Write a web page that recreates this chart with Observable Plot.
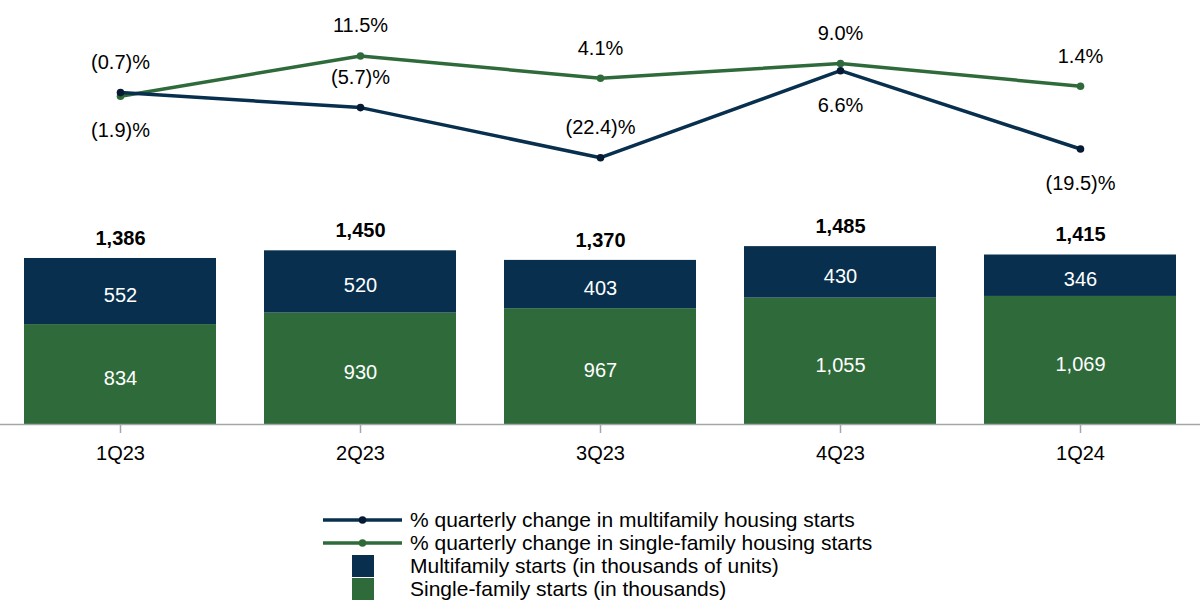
<!DOCTYPE html>
<html><head><meta charset="utf-8">
<script src="https://cdn.jsdelivr.net/npm/d3@7"></script>
<script src="https://cdn.jsdelivr.net/npm/@observablehq/plot@0.6"></script>
<style>
body{margin:0;background:#fff;font-family:"Liberation Sans",Arial,sans-serif;}
#chart{position:relative;width:1200px;height:614px;overflow:hidden;}
#chart svg.plt{position:absolute;left:0;top:0;}
#legend{position:absolute;left:323px;top:508px;font-size:21px;color:#000;}
.row{display:flex;align-items:center;height:23px;}
.sym{width:79px;height:23px;display:flex;align-items:center;justify-content:center;margin-right:8px;}
.sw{width:22px;height:22px;}
</style></head><body><div id="chart"><div id="legend"></div></div>
<script>
const quarters = ["1Q23","2Q23","3Q23","4Q23","1Q24"];
const multifamilyStarts = [552,520,403,430,346];
const singleFamilyStarts = [834,930,967,1055,1069];
const totalStarts = [1386,1450,1370,1485,1415];
const mfChange = [-0.7,-5.7,-22.4,6.6,-19.5];
const sfChange = [-1.9,11.5,4.1,9.0,1.4];

const NAVY = "#08304e", GREEN = "#2f6b3a", DOT_NAVY = "#061b33";
const SF = "Single-family starts (in thousands)";
const MF = "Multifamily starts (in thousands of units)";

const rows = [];
quarters.forEach((q,i)=>{
  rows.push({q, series:SF, value:singleFamilyStarts[i]});
  rows.push({q, series:MF, value:multifamilyStarts[i]});
});
const totals = quarters.map((q,i)=>({q, total: totalStarts[i]}));
const fmtN = d3.format(",");
const fmtP = v => v < 0 ? `(${(-v).toFixed(1)})%` : `${v.toFixed(1)}%`;

const chart = document.getElementById("chart");
const style = {fontFamily:"'Liberation Sans', Arial, sans-serif", fontSize:"20px", color:"black", background:"transparent"};

const bars = Plot.plot({
  width:1200, height:470, marginTop:200, marginBottom:46, marginLeft:0, marginRight:0,
  style,
  x:{domain:quarters, paddingInner:0.2, paddingOuter:0.1, label:null},
  y:{domain:[0,1870], axis:null},
  color:{domain:[SF,MF], range:[GREEN,NAVY]},
  marks:[
    Plot.barY(rows, Plot.stackY({x:"q", y:"value", fill:"series", z:"series", order:[SF,MF]})),
    Plot.text(rows, Plot.stackY({x:"q", y:"value", z:"series", order:[SF,MF], text:d=>fmtN(d.value), fill:"white", fontSize:20, dy:4})),
    Plot.text(totals, {x:"q", y:"total", text:d=>fmtN(d.total), dy:-20, fontSize:20, fontWeight:"bold", fill:"black"}),
    Plot.ruleY([0], {stroke:"#a6a6a6", strokeWidth:1.5}),
    Plot.axisX({tickSize:9, tickPadding:12, fontSize:20, stroke:"#a6a6a6", strokeWidth:1.5, fill:"black", label:null})
  ]
});
bars.classList.add("plt");
chart.appendChild(bars);

const mfData = quarters.map((q,i)=>({q, v:mfChange[i]}));
const sfData = quarters.map((q,i)=>({q, v:sfChange[i]}));
const mfBelow = new Set(["4Q23","1Q24"]);
const sfBelow = new Set(["1Q23"]);

const lines = Plot.plot({
  width:1200, height:220, margin:0,
  style,
  x:{type:"point", domain:quarters, padding:0.5, axis:null},
  y:{domain:[-43.33,30], axis:null},
  marks:[
    Plot.line(sfData, {x:"q", y:"v", stroke:GREEN, strokeWidth:3.5}),
    Plot.dot(sfData, {x:"q", y:"v", fill:GREEN, r:3.8}),
    Plot.line(mfData, {x:"q", y:"v", stroke:NAVY, strokeWidth:3.5}),
    Plot.dot(mfData, {x:"q", y:"v", fill:DOT_NAVY, r:3.8}),
    Plot.text(sfData.filter(d=>!sfBelow.has(d.q)), {x:"q", y:"v", text:d=>fmtP(d.v), dy:-30, fontSize:20, fill:"black"}),
    Plot.text(sfData.filter(d=>sfBelow.has(d.q)), {x:"q", y:"v", text:d=>fmtP(d.v), dy:34, fontSize:20, fill:"black"}),
    Plot.text(mfData.filter(d=>!mfBelow.has(d.q)), {x:"q", y:"v", text:d=>fmtP(d.v), dy:-30, fontSize:20, fill:"black"}),
    Plot.text(mfData.filter(d=>mfBelow.has(d.q)), {x:"q", y:"v", text:d=>fmtP(d.v), dy:35, fontSize:20, fill:"black"})
  ]
});
lines.classList.add("plt");
chart.appendChild(lines);

// legend
const legendItems = [
  {type:"line", color:NAVY, dot:DOT_NAVY, label:"% quarterly change in multifamily housing starts"},
  {type:"line", color:GREEN, dot:GREEN, label:"% quarterly change in single-family housing starts"},
  {type:"sq", color:NAVY, label:MF},
  {type:"sq", color:GREEN, label:SF}
];
const lg = document.getElementById("legend");
lg.innerHTML = legendItems.map(it => {
  const sym = it.type === "line"
    ? `<svg width="79" height="10"><line x1="0" x2="79" y1="5" y2="5" stroke="${it.color}" stroke-width="3.5"/><circle cx="39.5" cy="5" r="3.8" fill="${it.dot}"/></svg>`
    : `<div class="sw" style="background:${it.color}"></div>`;
  return `<div class="row"><div class="sym">${sym}</div><span>${it.label}</span></div>`;
}).join("");
chart.appendChild(lg);
</script></body></html>
